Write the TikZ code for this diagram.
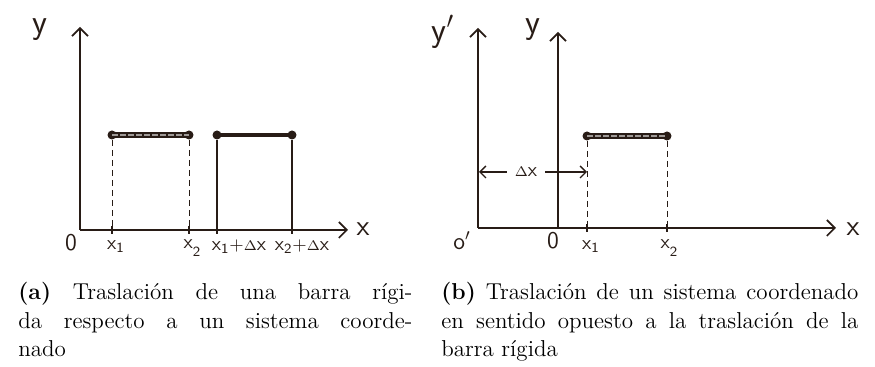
\documentclass[tikz,border=0pt]{standalone}
\usetikzlibrary{arrows.meta}
\definecolor{ink}{RGB}{40,28,22}
\begin{document}
\begin{tikzpicture}[x=0.5pt,y=-0.5pt,
  axis/.style={draw=ink,line width=1.1pt,-{Straight Barb[length=4pt,width=8pt,line width=0.8pt]}},
  lbl/.style={text=ink,font=\sffamily,inner sep=0pt},
  big/.style={text=ink,font=\sffamily\LARGE,inner sep=0pt},
  ghost/.style={draw=ink,line width=2.6pt},
  ghostin/.style={draw=white!55!ink,line width=1pt,dash pattern=on 3pt off 1pt},
  solidbar/.style={draw=ink,line width=2.4pt},
  dot/.style={circle,fill=ink,inner sep=0pt,minimum size=4.5pt},
  guide/.style={draw=ink,line width=0.5pt,dash pattern=on 3pt off 2pt},
  sguide/.style={draw=ink,line width=0.6pt},
  tick/.style={draw=ink,line width=0.8pt},
  dim/.style={draw=ink,line width=0.7pt,{Straight Barb[length=3pt,width=6pt]}-{Straight Barb[length=3pt,width=6pt]}},
  captext/.style={anchor=base west,inner sep=0pt,align=justify,font=\fontsize{11.5}{14.2}\selectfont}
]
\useasboundingbox (0,0) rectangle (875,367);

% ---------- panel (a) ----------
\coordinate (aO) at (80,230);
\coordinate (aYt) at (80,27);
\coordinate (aXt) at (348,230);
\draw[axis] (aO) -- (aYt);
\draw[axis] (aO) -- (aXt);
\node[big] (aylab) at (40,30) {y};
\node[lbl,font=\sffamily\Large] (axlab) at (363,229) {x};
\node[lbl,font=\sffamily\large] (aolab) at (71,243) {0};

\coordinate (a1b) at (112,230); \coordinate (a2b) at (189,230);
\coordinate (a3b) at (217,230); \coordinate (a4b) at (292,230);
\node[dot] (a1) at (112,135) {};
\node[dot] (a2) at (189,135) {};
\node[dot] (a3) at (217,135) {};
\node[dot] (a4) at (292,135) {};
\draw[ghost] (a1.center) -- (a2.center);
\draw[ghostin] (a1.center) -- (a2.center);
\draw[solidbar] (a3.center) -- (a4.center);
\draw[guide] (a1) -- (a1b);
\draw[guide] (a2) -- (a2b);
\draw[sguide] (a3) -- (a3b);
\draw[sguide] (a4) -- (a4b);
\foreach \p in {a1b,a2b,a3b,a4b} \draw[tick] ([yshift=2pt]\p) -- ([yshift=-2pt]\p);

\node[lbl] (ax1) at (116,247) {x\textsubscript{1}};
\node[lbl] (ax2) at (192,248) {x\raisebox{-4pt}{\scriptsize 2}};
\node[lbl] (ax3) at (239,247) {x\textsubscript{1}{\small+}$\scriptstyle\Delta$x};
\node[lbl] (ax4) at (302,247) {x\textsubscript{2}{\small+}$\scriptstyle\Delta$x};

% ---------- panel (b) ----------
\coordinate (bO1) at (478,228);
\coordinate (bY1t) at (478,28);
\coordinate (bO) at (558,228);
\coordinate (bYt) at (558,32);
\coordinate (bXt) at (836,228);
\draw[axis,line width=1.4pt] (bO1) -- (bY1t);
\draw[axis,line width=1.2pt] (bO) -- (bYt);
\draw[axis] (bO1) -- (bXt);
\node[big] (by1lab) at (443,32) {y$'$};
\node[big] (bylab) at (533,30) {y};
\node[lbl,font=\sffamily\Large] (bxlab) at (853,229) {x};
\node[lbl,font=\sffamily\large] (bo1lab) at (462,241) {o$'$};
\node[lbl,font=\sffamily\large] (bolab) at (553,241) {0};

\coordinate (b1b) at (587,228); \coordinate (b2b) at (667,228);
\node[dot] (b1) at (587,136) {};
\node[dot] (b2) at (667,136) {};
\draw[ghost] (b1.center) -- (b2.center);
\draw[ghostin] (b1.center) -- (b2.center);
\draw[guide] (b1) -- (b1b);
\draw[guide] (b2) -- (b2b);
\foreach \p in {b1b,b2b} \draw[tick] ([yshift=2pt]\p) -- ([yshift=-2pt]\p);
\node[lbl] (bx1) at (591,247) {x\textsubscript{1}};
\node[lbl] (bx2) at (669,248) {x\raisebox{-4pt}{\scriptsize 2}};

\coordinate (dL) at (479,172);
\coordinate (dR) at (587,172);
\draw[dim] (dL) -- (dR);
\node[lbl,fill=white,inner xsep=4pt,inner ysep=2pt] (dlab) at (526,172) {$\scriptstyle\Delta$x};

% ---------- captions ----------
\node[captext,text width=197pt] (capa) at (18,300)
  {\textbf{(a)} Traslación de una barra rígi-\linebreak da respecto a un sistema coorde-\linebreak nado};
\node[captext,text width=208.5pt] (capb) at (441,300)
  {\textbf{(b)} Traslación de un sistema coordenado\linebreak en sentido opuesto a la traslación de la\linebreak barra rígida};
\end{tikzpicture}
\end{document}
